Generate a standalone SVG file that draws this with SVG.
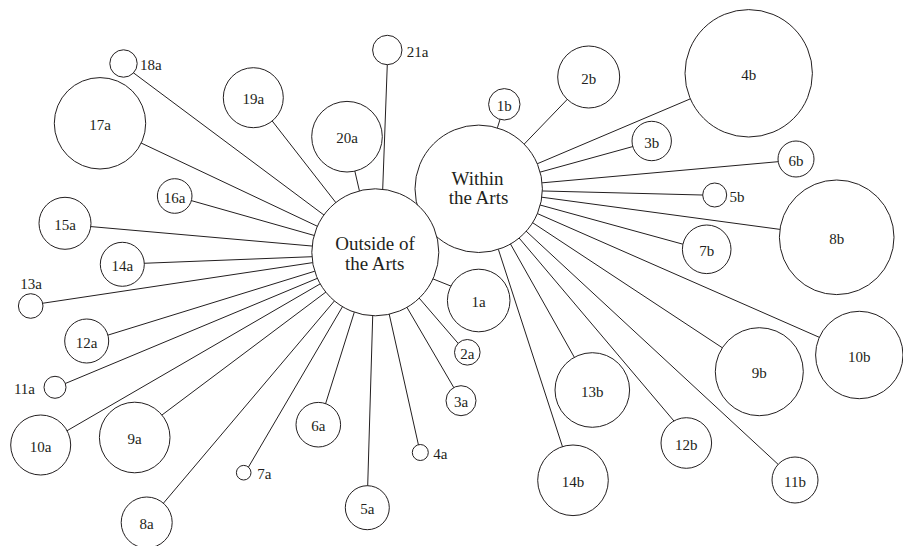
<svg xmlns="http://www.w3.org/2000/svg" width="903" height="546" viewBox="0 0 903 546">
<style>
.c{fill:#fff;stroke:#231f20;stroke-width:1}
.e line{stroke:#231f20;stroke-width:1}
text{font-family:"Liberation Serif","Times New Roman",serif;fill:#231f20;font-size:15px;text-anchor:middle}
.h text{font-size:19px}
.s{text-anchor:start}
.n{text-anchor:end}
</style>
<rect width="903" height="546" fill="#fff"/>
<g id="connectors" class="e">
<line x1="430.5" y1="277.9" x2="453.5" y2="287.1"/>
<line x1="417.5" y1="296.2" x2="458.7" y2="344"/>
<line x1="405.5" y1="304.9" x2="454.8" y2="389.3"/>
<line x1="388.6" y1="311.4" x2="419" y2="447.4"/>
<line x1="372.8" y1="312.7" x2="367.6" y2="489"/>
<line x1="355.2" y1="309.4" x2="324.8" y2="406.2"/>
<line x1="343.7" y1="304.6" x2="246.8" y2="469.9"/>
<line x1="336.4" y1="298.6" x2="161.4" y2="505.6"/>
<line x1="328.2" y1="290.3" x2="160.9" y2="415.8"/>
<line x1="322.9" y1="282.3" x2="65.7" y2="431.5"/>
<line x1="320.3" y1="277.1" x2="62.9" y2="384.5"/>
<line x1="317.7" y1="270.3" x2="105.4" y2="335.9"/>
<line x1="315.6" y1="262.2" x2="39.7" y2="303.7"/>
<line x1="314.8" y1="256.6" x2="141" y2="263.4"/>
<line x1="315.1" y1="246.3" x2="88.7" y2="226.4"/>
<line x1="317.2" y1="236.3" x2="188.8" y2="199.9"/>
<line x1="320.2" y1="227.6" x2="139" y2="142"/>
<line x1="326.2" y1="216.7" x2="132.6" y2="72.2"/>
<line x1="337.8" y1="205.1" x2="270.9" y2="119.3"/>
<line x1="360" y1="193.4" x2="354.3" y2="168.8"/>
<line x1="382.6" y1="192" x2="387.4" y2="61.7"/>
<line x1="496.6" y1="130.4" x2="500.9" y2="116.6"/>
<line x1="521.9" y1="146.5" x2="568.8" y2="97.8"/>
<line x1="534.6" y1="164.9" x2="692.1" y2="98.1"/>
<line x1="537.3" y1="172.9" x2="635.2" y2="145.9"/>
<line x1="539.1" y1="183.1" x2="781.3" y2="161.4"/>
<line x1="539.4" y1="190.9" x2="705.7" y2="195.1"/>
<line x1="538.8" y1="196.8" x2="782.3" y2="229.7"/>
<line x1="537.1" y1="204.2" x2="686.2" y2="245.1"/>
<line x1="534" y1="212.1" x2="822" y2="338.5"/>
<line x1="530.2" y1="221.1" x2="724.2" y2="349"/>
<line x1="523.8" y1="229" x2="779.9" y2="466"/>
<line x1="517.4" y1="236" x2="675.9" y2="423.3"/>
<line x1="509.2" y1="241.7" x2="575.8" y2="359.9"/>
<line x1="497.4" y1="246.4" x2="563.2" y2="448.9"/>
</g>
<g id="n1a"><circle class="c" cx="478.7" cy="300.5" r="31.3"/><text x="478.7" y="307">1a</text></g>
<g id="n2a"><circle class="c" cx="467.3" cy="352.3" r="12.8"/><text x="467.3" y="358.5">2a</text></g>
<g id="n3a"><circle class="c" cx="461" cy="400.7" r="15"/><text x="461" y="407">3a</text></g>
<g id="n4a"><circle class="c" cx="420.3" cy="452.5" r="8"/><text class="s" x="433.3" y="459.3">4a</text></g>
<g id="n5a"><circle class="c" cx="367.3" cy="507.7" r="22"/><text x="367.3" y="514.3">5a</text></g>
<g id="n6a"><circle class="c" cx="318.3" cy="424.7" r="22.3"/><text x="318.3" y="431.3">6a</text></g>
<g id="n7a"><circle class="c" cx="243.7" cy="472.7" r="7.3"/><text class="s" x="257.3" y="479">7a</text></g>
<g id="n8a"><circle class="c" cx="146.7" cy="522.5" r="25.5"/><text x="146.7" y="529.3">8a</text></g>
<g id="n9a"><circle class="c" cx="134.7" cy="437.5" r="35.3"/><text x="134.7" y="444.3">9a</text></g>
<g id="n10a"><circle class="c" cx="40.7" cy="445" r="30"/><text x="40.7" y="452">10a</text></g>
<g id="n11a"><circle class="c" cx="55" cy="387.3" r="11"/><text class="n" x="35" y="393.5">11a</text></g>
<g id="n12a"><circle class="c" cx="86.7" cy="341" r="22"/><text x="86.7" y="347.5">12a</text></g>
<g id="n13a"><circle class="c" cx="30.7" cy="306" r="12.3"/><text x="31" y="289.3">13a</text></g>
<g id="n14a"><circle class="c" cx="122.3" cy="264.3" r="22"/><text x="122.3" y="270.8">14a</text></g>
<g id="n15a"><circle class="c" cx="65" cy="223.3" r="26"/><text x="65" y="229.8">15a</text></g>
<g id="n16a"><circle class="c" cx="174.7" cy="196" r="17.3"/><text x="174.7" y="202.5">16a</text></g>
<g id="n17a"><circle class="c" cx="100" cy="123.3" r="45.7"/><text x="100" y="129.8">17a</text></g>
<g id="n18a"><circle class="c" cx="123.5" cy="63.5" r="13.7"/><text class="s" x="140" y="70.3">18a</text></g>
<g id="n19a"><circle class="c" cx="253.3" cy="97.7" r="30"/><text x="253.3" y="104.2">19a</text></g>
<g id="n20a"><circle class="c" cx="347" cy="136.7" r="35.3"/><text x="347" y="143.2">20a</text></g>
<g id="n21a"><circle class="c" cx="387.3" cy="50" r="14.7"/><text class="s" x="406.7" y="56.5">21a</text></g>
<g id="n1b"><circle class="c" cx="504.3" cy="104.3" r="15.7"/><text x="504.3" y="110.8">1b</text></g>
<g id="n2b"><circle class="c" cx="588.7" cy="77" r="31"/><text x="588.7" y="83.5">2b</text></g>
<g id="n3b"><circle class="c" cx="651.7" cy="141" r="19.7"/><text x="651.7" y="147.5">3b</text></g>
<g id="n4b"><circle class="c" cx="748.7" cy="73.3" r="63.7"/><text x="748.7" y="79.8">4b</text></g>
<g id="n5b"><circle class="c" cx="714.7" cy="195" r="12"/><text class="s" x="729.5" y="202.3">5b</text></g>
<g id="n6b"><circle class="c" cx="796" cy="159" r="18"/><text x="796" y="165.5">6b</text></g>
<g id="n7b"><circle class="c" cx="706.7" cy="249.3" r="24.3"/><text x="706.7" y="255.8">7b</text></g>
<g id="n8b"><circle class="c" cx="836.7" cy="237.3" r="57.3"/><text x="836.7" y="243.8">8b</text></g>
<g id="n9b"><circle class="c" cx="759.3" cy="371.7" r="44"/><text x="759.3" y="378.2">9b</text></g>
<g id="n10b"><circle class="c" cx="859.3" cy="355" r="43.7"/><text x="859.3" y="361.5">10b</text></g>
<g id="n11b"><circle class="c" cx="795" cy="480" r="23"/><text x="795" y="486.5">11b</text></g>
<g id="n12b"><circle class="c" cx="686.3" cy="443" r="25.3"/><text x="686.3" y="449.5">12b</text></g>
<g id="n13b"><circle class="c" cx="592.3" cy="390" r="37.3"/><text x="592.3" y="396.5">13b</text></g>
<g id="n14b"><circle class="c" cx="573" cy="480.3" r="35.3"/><text x="573" y="486.8">14b</text></g>
<g id="within" class="h"><circle class="c" cx="478.7" cy="188.8" r="63.7"/><text x="477.5" y="185">Within</text><text x="478.5" y="204">the Arts</text></g>
<g id="outside" class="h"><circle class="c" cx="375.3" cy="252.3" r="63.5"/><text x="375" y="250">Outside of</text><text x="374.7" y="270">the Arts</text></g>
</svg>
